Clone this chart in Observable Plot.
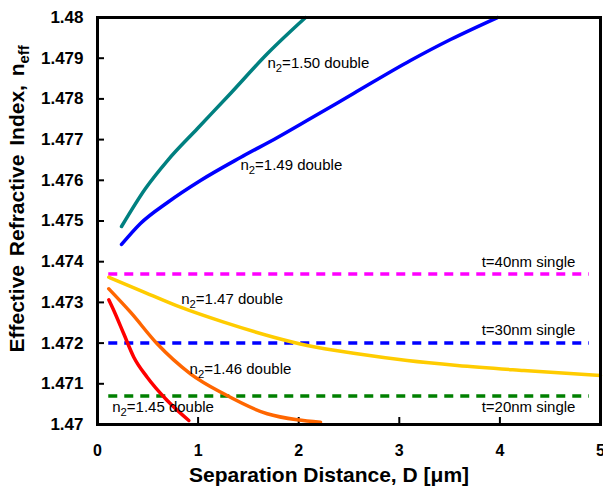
<!DOCTYPE html>
<html><head><meta charset="utf-8">
<script src="https://cdn.jsdelivr.net/npm/d3@7"></script>
<script src="https://cdn.jsdelivr.net/npm/@observablehq/plot@0.6"></script>
<style>
body{margin:0;background:#fff}
svg{font-family:"Liberation Sans",Arial,sans-serif}
</style>
</head><body><div id="chart"></div>
<script>
// ---- data ----
const xTicks = [0, 1, 2, 3, 4, 5];
const yTicks = [1.47, 1.471, 1.472, 1.473, 1.474, 1.475, 1.476, 1.477, 1.478, 1.479, 1.48];

const seriesNames = ["n2=1.50 double", "n2=1.49 double", "n2=1.47 double", "n2=1.46 double", "n2=1.45 double"];

const n150_x = [0.239, 0.477, 0.696, 0.994, 1.322, 1.690, 2.068];
const n150_y = [1.474865, 1.475799, 1.476486, 1.477273, 1.478133, 1.479115, 1.48];

const n149_x = [0.239, 0.427, 0.696, 1.024, 1.421, 1.789, 2.117, 2.545, 3.111, 3.509, 3.976];
const n149_y = [1.474423, 1.474939, 1.475455, 1.475995, 1.476560, 1.477052, 1.477518, 1.478133, 1.478943, 1.479459, 1.48];

const n147_x = [0.112, 0.427, 0.825, 1.255, 1.752, 2.085, 2.581, 3.079, 3.576, 4.238, 5.0];
const n147_y = [1.473619, 1.473292, 1.472882, 1.472514, 1.472145, 1.471941, 1.471737, 1.471572, 1.471450, 1.471327, 1.471204];

const n146_x = [0.112, 0.328, 0.593, 0.924, 1.255, 1.687, 1.985, 2.217];
const n146_y = [1.473334, 1.472759, 1.471983, 1.471246, 1.470754, 1.470263, 1.470115, 1.470057];

const n145_x = [0.112, 0.162, 0.261, 0.361, 0.494, 0.693, 0.908];
const n145_y = [1.473064, 1.472801, 1.472229, 1.471654, 1.471162, 1.470590, 1.470098];

const seriesX = [n150_x, n149_x, n147_x, n146_x, n145_x];
const seriesY = [n150_y, n149_y, n147_y, n146_y, n145_y];

const seriesLabelX = [1.690, 1.421, 0.832, 0.915, 0.146];
const seriesLabelY = [1.478870, 1.476364, 1.473088, 1.471369, 1.470425];

const singleNames = ["t=40nm single", "t=30nm single", "t=20nm single"];
const singleLevels = [1.4737, 1.472, 1.4707];
const singleStart = 0.112;
const singleEnd = 4.89;
const singleLabelX = [4.751, 4.751, 4.751];
const singleLabelY = [1.473988, 1.472310, 1.470425];

// ---- styles ----
const seriesColors = ["#008080", "#0000ff", "#ffcc00", "#ff6600", "#ff0000"];
const singleColors = ["#ff00ff", "#0000ff", "#008000"];

// ---- tables ----
const lineRows = [];
seriesNames.forEach((name, i) => {
  seriesX[i].forEach((x, j) => lineRows.push({series: name, x, y: seriesY[i][j]}));
});
const seriesLabels = seriesNames.map((t, i) => ({t, x: seriesLabelX[i], y: seriesLabelY[i]}));
const singleRows = singleNames.map((t, i) => ({t, level: singleLevels[i], color: singleColors[i], lx: singleLabelX[i], ly: singleLabelY[i]}));

const W = 603, H = 487, mL = 97, mR = 3, mT = 17, mB = 63;
const plotW = W - mL - mR, plotH = H - mT - mB;

const chart = Plot.plot({
  width: W, height: H,
  marginLeft: mL, marginRight: mR, marginTop: mT, marginBottom: mB,
  x: {domain: [0, 5]},
  y: {domain: [1.47, 1.48]},
  color: {domain: seriesNames, range: seriesColors},
  style: {fontFamily: '"Liberation Sans", Arial, sans-serif', background: "white"},
  marks: [
    Plot.axisX({ticks: xTicks, tickSize: 0, tickPadding: 20, tickFormat: d => String(d), fontSize: 16, fontWeight: "bold", label: null}),
    Plot.axisY({ticks: yTicks, tickSize: 0, tickPadding: 14, tickFormat: d => String(+d.toFixed(3)), fontSize: 17, fontWeight: "bold", label: null}),
    Plot.tickY(yTicks.slice(1, -1), {y: d => d, stroke: "black", strokeWidth: 2, insetRight: plotW - 7}),
    Plot.tickX(xTicks.slice(1, -1), {x: d => d, stroke: "black", strokeWidth: 2, insetTop: plotH - 7}),
    Plot.ruleY(singleRows, {y: "level", x1: () => singleStart, x2: () => singleEnd, stroke: "color", strokeWidth: 3.5, strokeDasharray: "9,7"}),
    Plot.line(lineRows, {x: "x", y: "y", z: "series", stroke: "series", strokeWidth: 3.5, curve: "monotone-x"}),
    Plot.text(seriesLabels, {x: "x", y: "y", text: "t", textAnchor: "start", fontSize: 15, fill: "black"}),
    Plot.text(singleRows, {x: "lx", y: "ly", text: "t", textAnchor: "end", fontSize: 15, fill: "black"}),
    Plot.frame({stroke: "black", strokeWidth: 3}),
    Plot.text(["Separation Distance, D [\u03bcm]"], {frameAnchor: "bottom", dx: -20, dy: 51, text: d => d, fontSize: 21, fontWeight: "bold", lineAnchor: "middle", textAnchor: "middle"}),
    Plot.text(["Effective Refractive Index, neff"], {frameAnchor: "left", dx: -80, dy: -22, rotate: -90, text: d => d, fontSize: 21, fontWeight: "bold", lineAnchor: "middle", textAnchor: "middle"})
  ]
});
document.getElementById("chart").appendChild(chart);

// subscripts
const NS = "http://www.w3.org/2000/svg";
chart.querySelectorAll("text").forEach(el => {
  const s = el.textContent;
  let parts = null;
  if (/^n2=/.test(s)) parts = [["n", 0, null], ["2", 4, "0.75em"], [s.slice(2), -4, null]];
  else if (/^Effective/.test(s)) {
    parts = [[s.slice(0, -3), 0, null], ["eff", 5, "0.7em"]];
    el.setAttribute("word-spacing", "3");
  }
  if (!parts) return;
  el.textContent = "";
  parts.forEach(([t, dy, fs]) => {
    const ts = document.createElementNS(NS, "tspan");
    ts.textContent = t;
    if (dy) ts.setAttribute("dy", dy);
    if (fs) ts.setAttribute("font-size", fs);
    el.appendChild(ts);
  });
});
</script>
</body></html>
